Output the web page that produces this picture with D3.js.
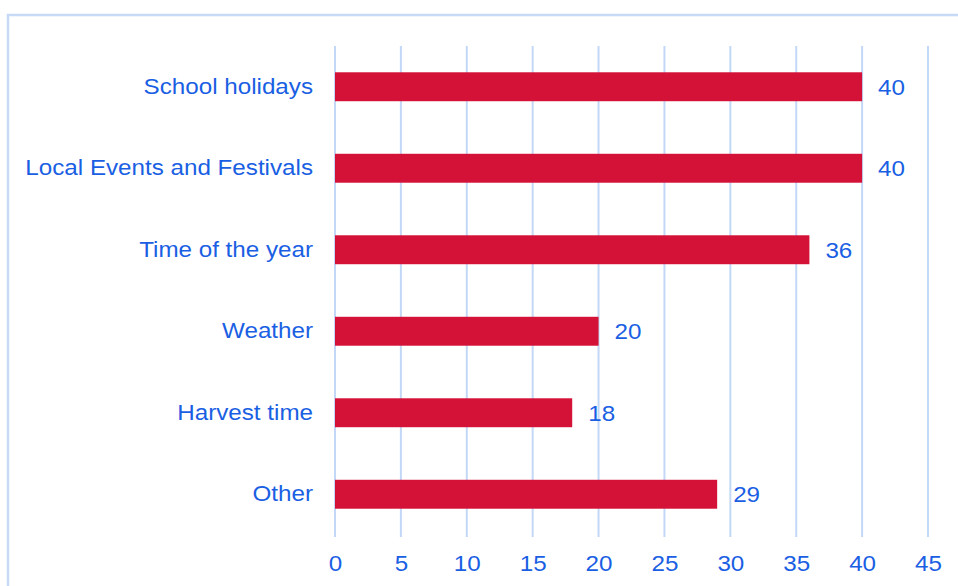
<!DOCTYPE html>
<html><head><meta charset="utf-8">
<script src="https://cdn.jsdelivr.net/npm/d3@7"></script>
<style>body{margin:0;background:#fff}svg{display:block}</style>
</head><body>
<script>
const categories = ["School holidays","Local Events and Festivals","Time of the year","Weather","Harvest time","Other"];
const values = [40,40,36,20,18,29];
const tickValues = [0,5,10,15,20,25,30,35,40,45];

const W=958,H=586;
const svg=d3.select("body").append("svg").attr("width",W).attr("height",H);
const blue="#1a5fe3";
const fs=22, sx=1.1;
// frame
svg.append("rect").attr("x",8).attr("y",15).attr("width",W+20).attr("height",H+20)
  .attr("fill","none").attr("stroke","#c6daf7").attr("stroke-width",2.5);

const x=d3.scaleLinear().domain([0,45]).range([335,928]);
const y=d3.scaleBand().domain(categories).range([46,535]).paddingInner(0.645).paddingOuter(0.3225);

// gridlines
svg.append("g").selectAll("line").data(tickValues).join("line")
  .attr("x1",d=>x(d)).attr("x2",d=>x(d)).attr("y1",46).attr("y2",537)
  .attr("stroke","#c3d8f6").attr("stroke-width",2);

// bars
svg.append("g").selectAll("rect").data(values).join("rect")
  .attr("x",x(0)).attr("y",(d,i)=>y(categories[i]))
  .attr("width",d=>x(d)-x(0)).attr("height",y.bandwidth())
  .attr("fill","#d41238");

const font="'Liberation Sans', Arial, sans-serif";
function stretch(sel, anchorX){
  sel.each(function(){
    const t=d3.select(this);
    const ax=anchorX(t);
    t.attr("transform",`translate(${ax},0) scale(${sx},1) translate(${-ax},0)`);
  });
}
// value labels
const vl=svg.append("g").selectAll("text").data(values).join("text")
  .attr("x",d=>x(d)+16).attr("y",(d,i)=>y(categories[i])+y.bandwidth()/2)
  .attr("dy","0.36em").attr("fill",blue).attr("font-family",font).attr("font-size",fs)
  .text(d=>d);
stretch(vl,t=>+t.attr("x"));

// y axis
const ya=svg.append("g").attr("transform",`translate(${x(0)},0)`)
  .call(d3.axisLeft(y).tickSize(0).tickPadding(22));
ya.select(".domain").remove();
ya.selectAll("text").attr("fill",blue).attr("font-family",font).attr("font-size",fs)
  .attr("transform",`translate(-22,0) scale(${sx},1) translate(22,0)`);

// x axis
const xa=svg.append("g").attr("transform","translate(0,537)")
  .call(d3.axisBottom(x).tickValues(tickValues).tickSize(0).tickPadding(18));
xa.select(".domain").remove();
xa.selectAll("text").attr("fill",blue).attr("font-family",font).attr("font-size",fs)
  .attr("transform",`scale(${sx},1)`);
</script>
</body></html>
